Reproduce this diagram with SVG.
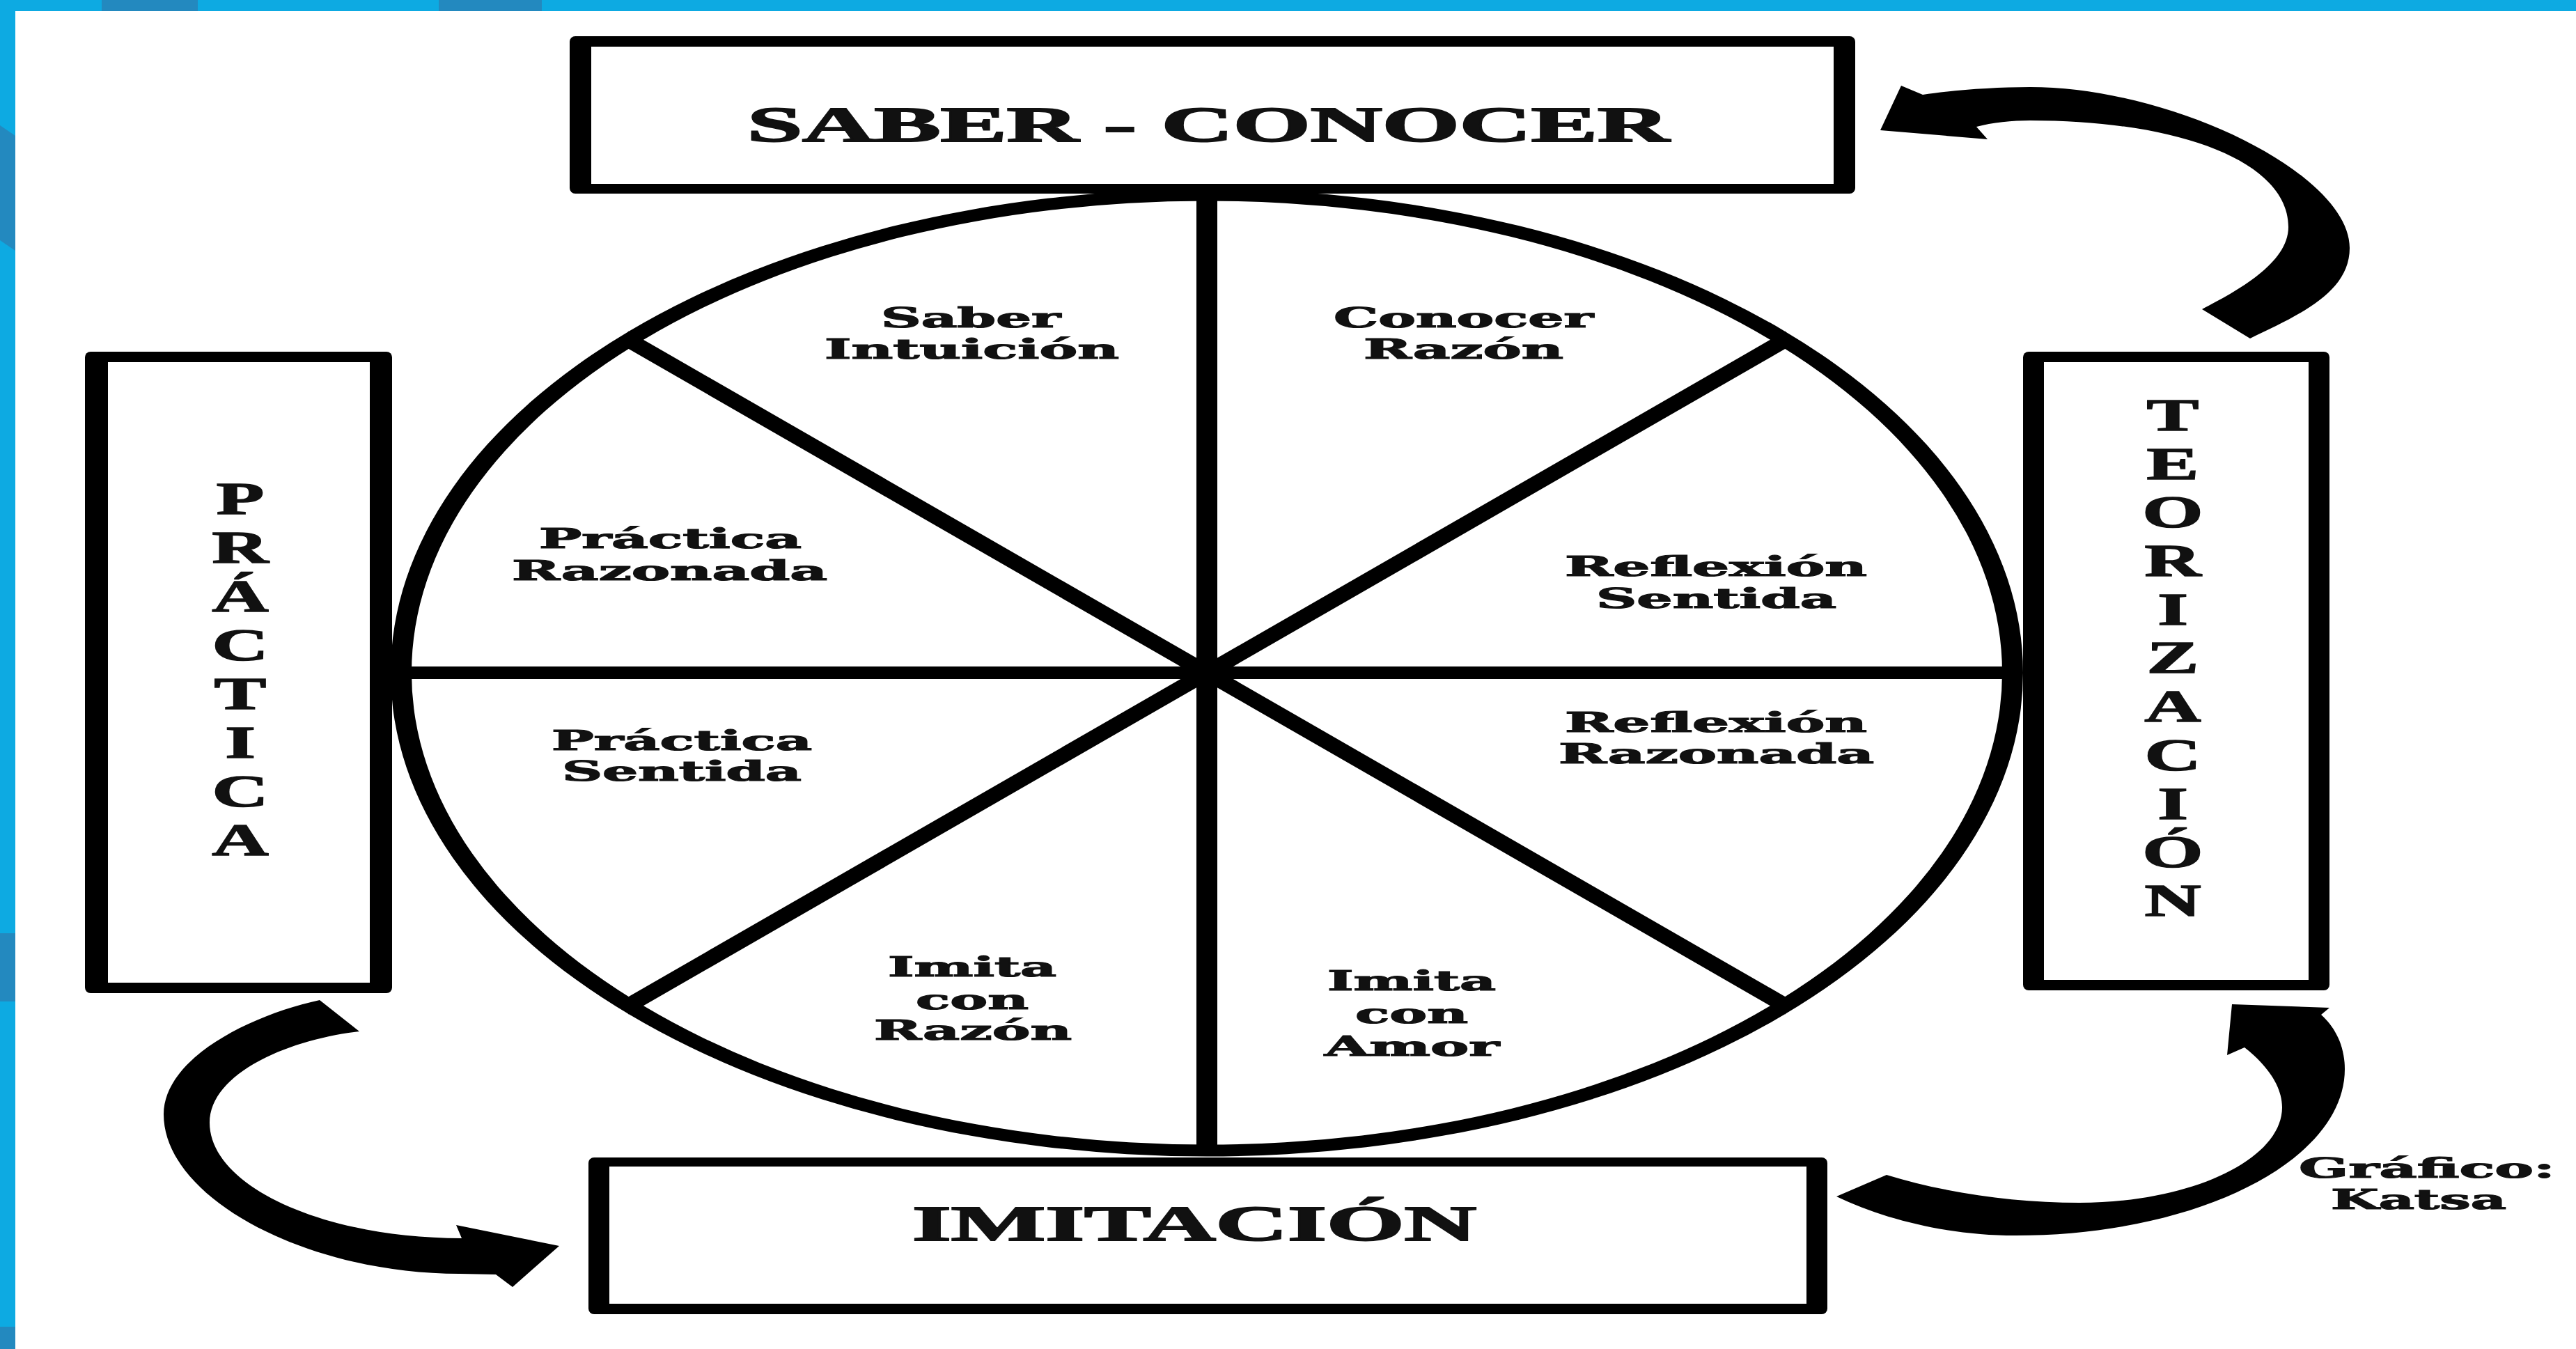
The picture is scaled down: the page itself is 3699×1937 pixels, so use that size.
<svg xmlns="http://www.w3.org/2000/svg" width="3699" height="1937" viewBox="0 0 3699 1937">
<style>
.blue{fill:#0DAAE2}
.dblue{fill:#2389BF}
.outer{fill:#000}
.inner{fill:#fff}
.big{font-family:"Liberation Serif","Times New Roman",serif;font-weight:bold;font-size:72px;fill:#111;stroke:#111;stroke-width:2}
.vert{font-family:"Liberation Serif","Times New Roman",serif;font-weight:bold;font-size:66px;fill:#111;stroke:#111;stroke-width:1.5;text-anchor:middle}
.seg{font-family:"DejaVu Serif","Liberation Serif",serif;font-weight:bold;font-size:39px;fill:#111;stroke:#111;stroke-width:1.2}
.line{stroke:#000;fill:none}
.arrow{fill:#000}
</style>
<rect x="0" y="0" width="3699" height="1937" fill="#fff"/>
<g id="frame">
<rect class="blue" x="0" y="0" width="3699" height="16"/>
<rect class="dblue" x="146" y="0" width="138" height="16"/>
<rect class="dblue" x="630" y="0" width="148" height="16"/>
<rect class="blue" x="0" y="0" width="22" height="1937"/>
<polygon class="dblue" points="0,180 22,195 22,360 0,345"/>
<rect class="dblue" x="0" y="1340" width="22" height="98"/>
<rect class="dblue" x="0" y="1905" width="22" height="32"/>
</g>
<g id="wheel">
<path class="outer" fill-rule="evenodd" d="M561 966 a1172 694.5 0 1 0 2344 0 a1172 694.5 0 1 0 -2344 0 Z M591 966 a1142 677.5 0 1 0 2284 0 a1142 677.5 0 1 0 -2284 0 Z"/>
<line class="line" x1="1733" y1="276" x2="1733" y2="1657" stroke-width="30"/>
<line class="line" x1="565" y1="966" x2="2901" y2="966" stroke-width="18"/>
<line class="line" x1="897" y1="485" x2="2569" y2="1447" stroke-width="22"/>
<line class="line" x1="897" y1="1447" x2="2569" y2="485" stroke-width="22"/>
<text class="seg" x="1265" y="470" textLength="258" lengthAdjust="spacingAndGlyphs">Saber</text>
<text class="seg" x="1184" y="515" textLength="423" lengthAdjust="spacingAndGlyphs">Intuición</text>
<text class="seg" x="1915" y="470" textLength="373" lengthAdjust="spacingAndGlyphs">Conocer</text>
<text class="seg" x="1958" y="515" textLength="287" lengthAdjust="spacingAndGlyphs">Razón</text>
<text class="seg" x="774" y="787" textLength="377" lengthAdjust="spacingAndGlyphs">Práctica</text>
<text class="seg" x="735" y="833" textLength="453" lengthAdjust="spacingAndGlyphs">Razonada</text>
<text class="seg" x="2247" y="827" textLength="434" lengthAdjust="spacingAndGlyphs">Reflexión</text>
<text class="seg" x="2292" y="873" textLength="345" lengthAdjust="spacingAndGlyphs">Sentida</text>
<text class="seg" x="792" y="1077" textLength="374" lengthAdjust="spacingAndGlyphs">Práctica</text>
<text class="seg" x="807" y="1121" textLength="344" lengthAdjust="spacingAndGlyphs">Sentida</text>
<text class="seg" x="2247" y="1051" textLength="434" lengthAdjust="spacingAndGlyphs">Reflexión</text>
<text class="seg" x="2238" y="1096" textLength="453" lengthAdjust="spacingAndGlyphs">Razonada</text>
<text class="seg" x="1275" y="1402" textLength="242" lengthAdjust="spacingAndGlyphs">Imita</text>
<text class="seg" x="1315" y="1449" textLength="162" lengthAdjust="spacingAndGlyphs">con</text>
<text class="seg" x="1255" y="1493" textLength="284" lengthAdjust="spacingAndGlyphs">Razón</text>
<text class="seg" x="1906" y="1422" textLength="242" lengthAdjust="spacingAndGlyphs">Imita</text>
<text class="seg" x="1946" y="1469" textLength="162" lengthAdjust="spacingAndGlyphs">con</text>
<text class="seg" x="1902" y="1516" textLength="251" lengthAdjust="spacingAndGlyphs">Amor</text>
</g>
<g id="node-saber-conocer">
<rect class="outer" x="818" y="52" width="1846" height="226" rx="8"/>
<rect class="inner" x="849" y="67" width="1784" height="197"/>
<text class="big" x="1073" y="203" textLength="1324" lengthAdjust="spacingAndGlyphs">SABER - CONOCER</text>
</g>
<g id="node-practica">
<rect class="outer" x="122" y="505" width="441" height="921" rx="8"/>
<rect class="inner" x="155" y="520" width="376" height="891"/>
<text class="vert" transform="translate(345 0) scale(1.7 1)"><tspan x="0" y="738">P</tspan><tspan x="0" y="808">R</tspan><tspan x="0" y="878">Á</tspan><tspan x="0" y="948">C</tspan><tspan x="0" y="1018">T</tspan><tspan x="0" y="1088">I</tspan><tspan x="0" y="1158">C</tspan><tspan x="0" y="1228">A</tspan></text>
</g>
<g id="node-teorizacion">
<rect class="outer" x="2905" y="505" width="440" height="917" rx="8"/>
<rect class="inner" x="2935" y="520" width="380" height="887"/>
<text class="vert" transform="translate(3120 0) scale(1.7 1)"><tspan x="0" y="618">T</tspan><tspan x="0" y="688">E</tspan><tspan x="0" y="757">O</tspan><tspan x="0" y="827">R</tspan><tspan x="0" y="897">I</tspan><tspan x="0" y="966">Z</tspan><tspan x="0" y="1036">A</tspan><tspan x="0" y="1106">C</tspan><tspan x="0" y="1176">I</tspan><tspan x="0" y="1245">Ó</tspan><tspan x="0" y="1315">N</tspan></text>
</g>
<g id="node-imitacion">
<rect class="outer" x="845" y="1662" width="1779" height="225" rx="8"/>
<rect class="inner" x="875" y="1675" width="1719" height="197"/>
<text class="big" x="1310" y="1781" textLength="810" lengthAdjust="spacingAndGlyphs">IMITACIÓN</text>
</g>
<g id="connectors">
<path class="arrow" d="M3231 486 C3302 452 3374 420 3374 356 C3374 250 3120 125 2915 125 C2860 125 2800 130 2761 136 L2730 123 L2700 187 L2854 200 L2838 182 C2860 176 2890 173 2915 173 C3135 173 3286 234 3286 326 C3286 378 3212 418 3162 444 Z"/>
<path class="arrow" d="M459 1436 C358 1458 235 1520 235 1600 C235 1720 440 1829 660 1829 L712 1830 L736 1848 L803 1789 L655 1759 L663 1778 C464 1778 301 1703 301 1612 C301 1542 412 1493 516 1481 Z"/>
<path class="arrow" d="M2637 1718 C2708 1752 2800 1774 2894 1774 C3155 1774 3367 1667 3367 1535 C3367 1500 3352 1474 3333 1457 L3345 1447 L3205 1442 L3198 1515 L3223 1504 C3256 1530 3277 1560 3277 1590 C3277 1665 3146 1727 2986 1727 C2890 1727 2790 1712 2709 1687 Z"/>
</g>
<g id="credit">
<text class="seg" x="3301" y="1691" textLength="368" lengthAdjust="spacingAndGlyphs">Gráfico:</text>
<text class="seg" x="3347" y="1736" textLength="252" lengthAdjust="spacingAndGlyphs">Katsa</text>
</g>
</svg>
